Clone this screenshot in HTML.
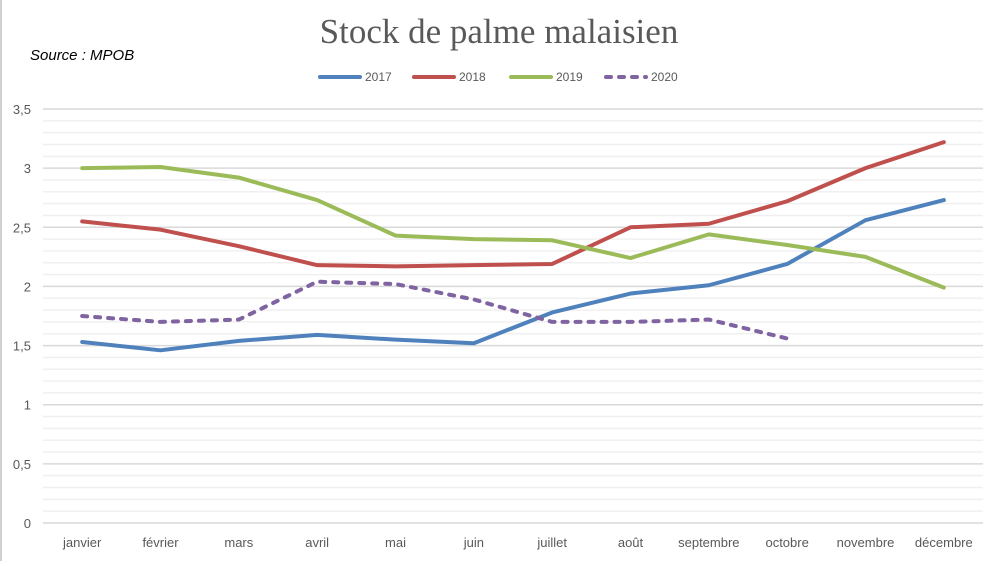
<!DOCTYPE html>
<html><head><meta charset="utf-8"><style>
body{margin:0;background:#fff;width:1000px;height:561px;overflow:hidden;font-family:"Liberation Sans",sans-serif}
</style></head><body>
<svg width="1000" height="561" id="c">
<rect x="0" y="0" width="1000" height="561" fill="#fff"/>
<line x1="1" y1="0" x2="1" y2="561" stroke="#d0d0d0" stroke-width="2"/>
<text x="499" y="43" text-anchor="middle" font-family="Liberation Serif,serif" font-size="35" fill="#595959">Stock de palme malaisien</text>
<text x="30" y="60" font-size="15" font-style="italic" fill="#000">Source : MPOB</text>
<g id="grid"></g><g id="axes"></g><g id="series"></g><g id="legend"></g>
</svg>
<script>
const months=["janvier","février","mars","avril","mai","juin","juillet","août","septembre","octobre","novembre","décembre"];
const yTicks=["0","0,5","1","1,5","2","2,5","3","3,5"];
const s2017=[1.53,1.46,1.54,1.59,1.55,1.52,1.78,1.94,2.01,2.19,2.56,2.73];
const s2018=[2.55,2.48,2.34,2.18,2.17,2.18,2.19,2.50,2.53,2.72,3.00,3.22];
const s2019=[3.00,3.01,2.92,2.73,2.43,2.40,2.39,2.24,2.44,2.35,2.25,1.99];
const s2020=[1.75,1.70,1.72,2.04,2.02,1.89,1.70,1.70,1.72,1.56];
const NS="http://www.w3.org/2000/svg";
const X0=43,X1=983,Y0=523,Y1=109,YMAX=3.5;
const step=(X1-X0)/months.length;
const xs=i=>X0+step*(i+0.5);
const ys=v=>Y0-(v/YMAX)*(Y0-Y1);
function mk(t,a,p){const e=document.createElementNS(NS,t);for(const k in a)e.setAttribute(k,a[k]);p.appendChild(e);return e;}
const grid=document.getElementById('grid'),axes=document.getElementById('axes'),ser=document.getElementById('series'),leg=document.getElementById('legend');
for(let k=1;k<=35;k++){
 if(k%5===0)continue;
 const l=mk('line',{x1:X0,x2:X1,y1:ys(k/10),y2:ys(k/10),stroke:'#f0f0f0','stroke-width':1.5},grid);
 
 
}
yTicks.forEach((t,i)=>{
 const v=i*0.5;
 const l=mk('line',{x1:X0,x2:X1,y1:ys(v),y2:ys(v),stroke:'#d9d9d9','stroke-width':1.5},grid);
 
 
 const tx=mk('text',{x:31,y:ys(v)+5,'text-anchor':'end','font-size':13,fill:'#595959'},axes);
 tx.textContent=t;
 
 
});
months.forEach((m,i)=>{
 const tx=mk('text',{x:xs(i),y:547,'text-anchor':'middle','font-size':13,fill:'#595959'},axes);
 tx.textContent=m;
 
 
});
const series=[["2017",s2017,"#4f81bd",null],["2018",s2018,"#c0504d",null],["2019",s2019,"#9bbb59",null],["2020",s2020,"#8064a2","5 8"]];
series.forEach(([n,d,c,dash])=>{
 const p=mk('polyline',{points:d.map((v,i)=>xs(i)+','+ys(v)).join(' '),fill:'none',stroke:c,'stroke-width':4,'stroke-linejoin':'round','stroke-linecap':'round'},ser);
 if(dash){p.setAttribute('stroke-dasharray',dash);}
 
 
});
const lx=[320,414,511,606];
series.forEach(([n,d,c,dash],i)=>{
 const g=mk('g',{},leg);
 
 
 const l=mk('line',{x1:lx[i],x2:lx[i]+40,y1:77,y2:77,stroke:c,'stroke-width':4,'stroke-linecap':'round'},g);
 if(dash)l.setAttribute('stroke-dasharray',dash);
 const t=mk('text',{x:lx[i]+45,y:81,'font-size':12,fill:'#595959'},g);
 t.textContent=n;
});
</script>
</body></html>
